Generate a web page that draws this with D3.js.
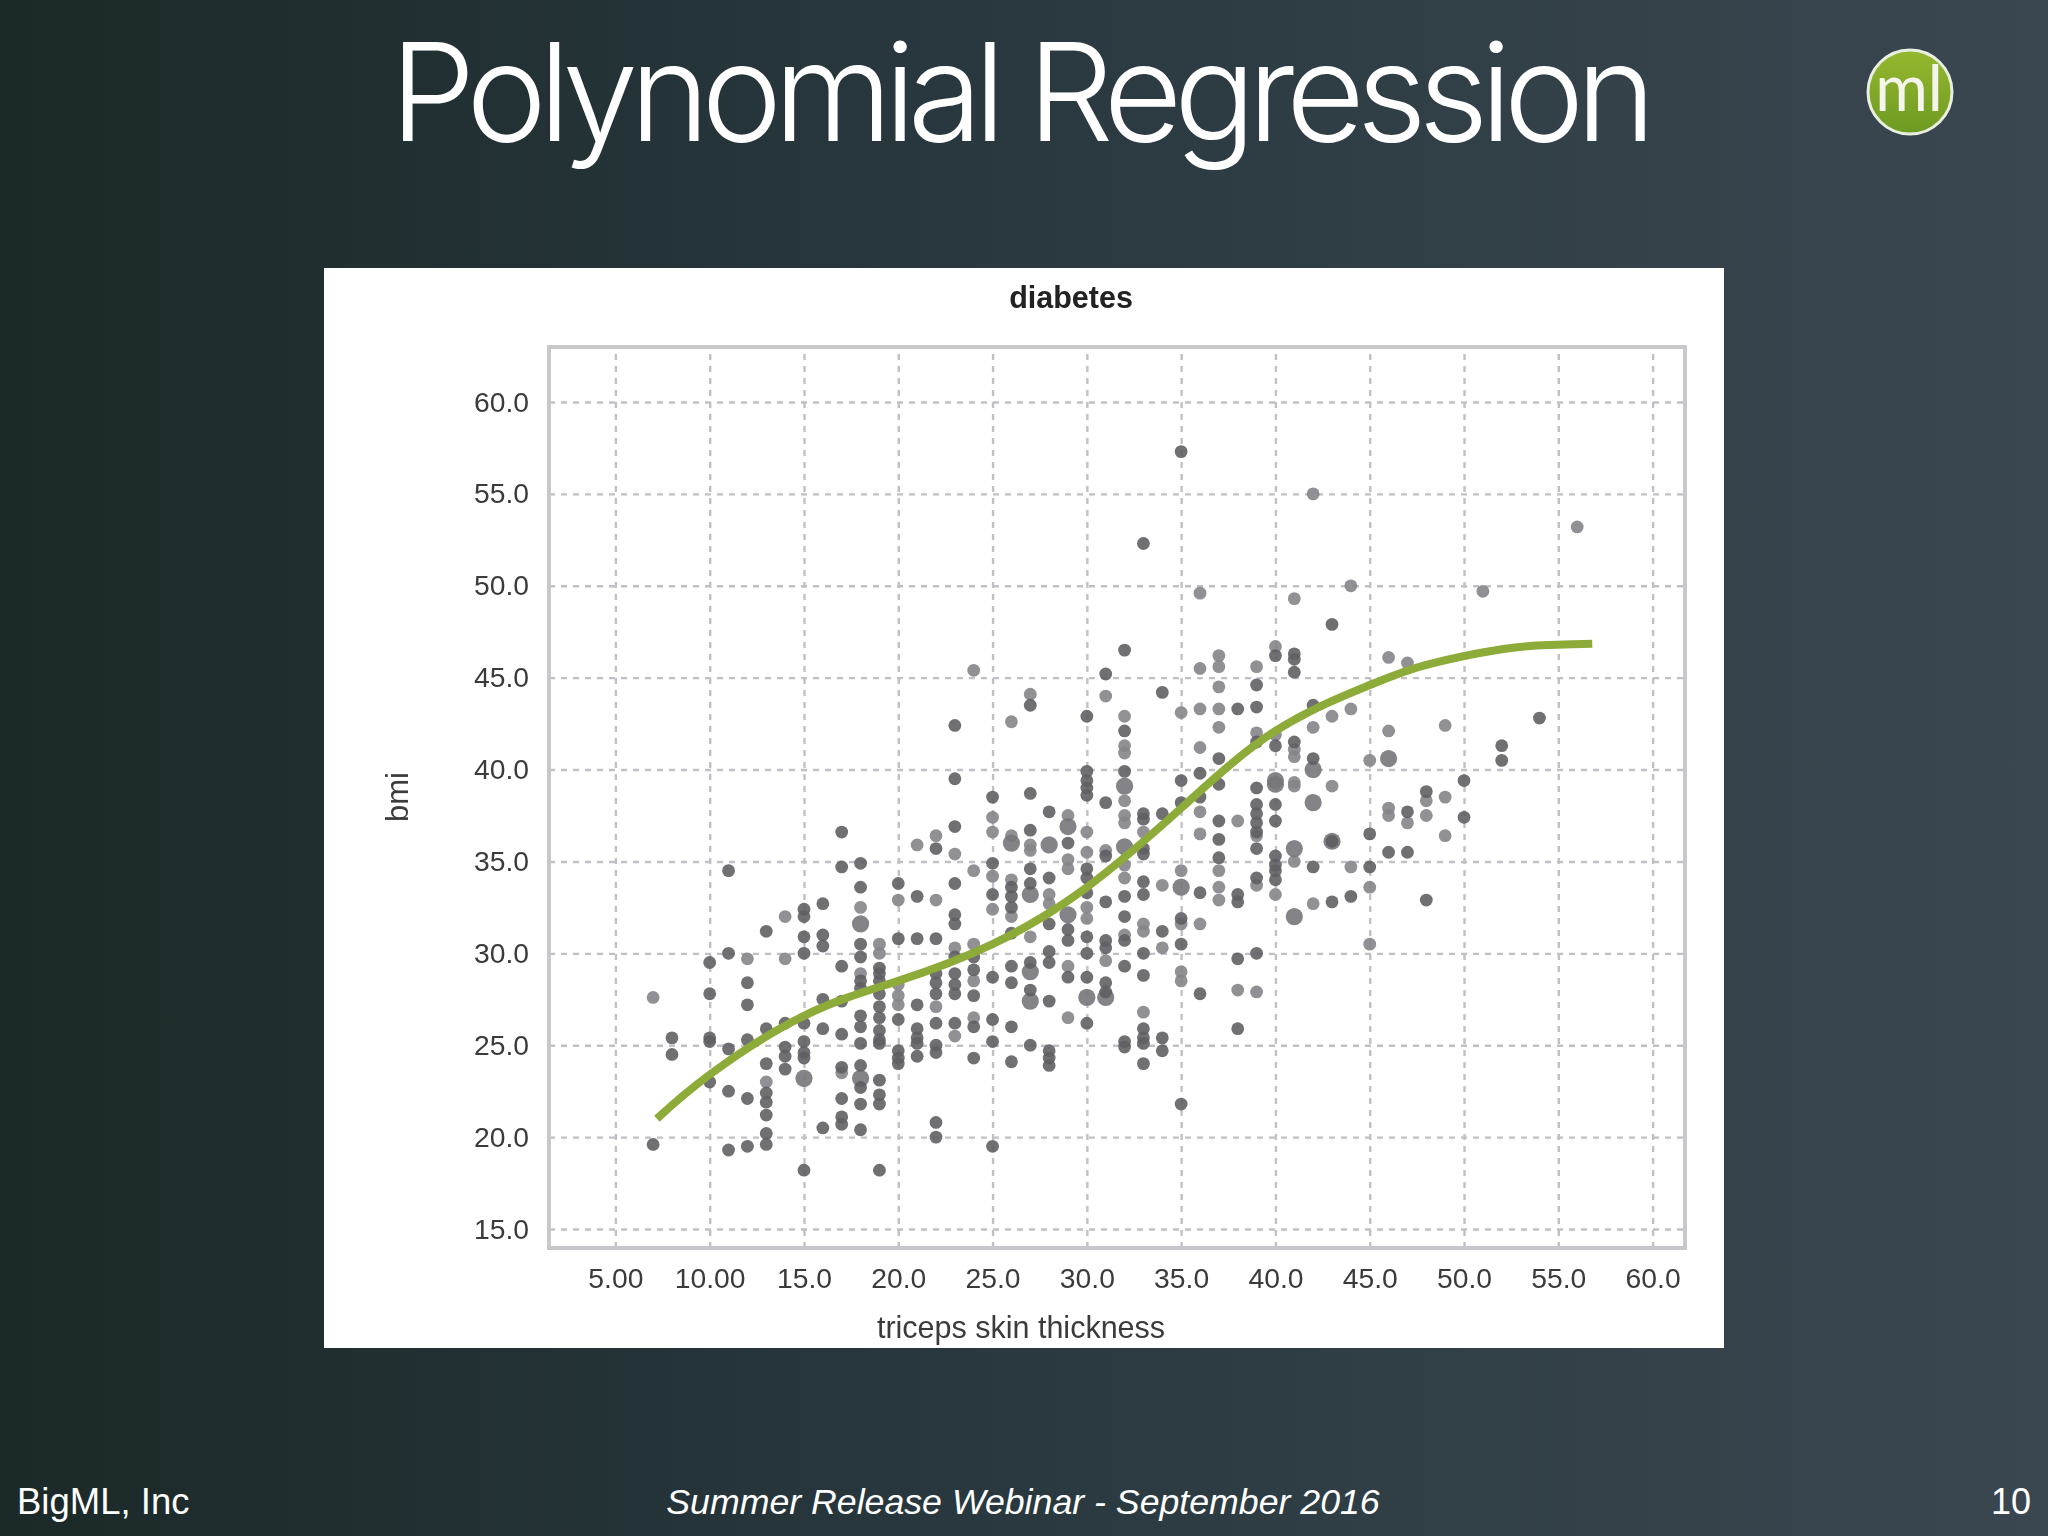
<!DOCTYPE html>
<html><head><meta charset="utf-8">
<script src="https://cdn.jsdelivr.net/npm/d3@7/dist/d3.min.js"></script>
<style>html,body{margin:0;padding:0;background:#2a383e}svg{display:block}</style>
</head><body><svg id="c" width="2048" height="1536"></svg>
<script>
const slideTitle = "Polynomial Regression";
const chartTitle = "diabetes";
const xAxisTitle = "triceps skin thickness";
const yAxisTitle = "bmi";
const xTicks = [5,10,15,20,25,30,35,40,45,50,55,60];
const xTickLabels = ["5.00","10.00","15.0","20.0","25.0","30.0","35.0","40.0","45.0","50.0","55.0","60.0"];
const yTicks = [15,20,25,30,35,40,45,50,55,60];
const yTickLabels = ["15.0","20.0","25.0","30.0","35.0","40.0","45.0","50.0","55.0","60.0"];
const footerLeft = "BigML, Inc";
const footerMid = "Summer Release Webinar - September 2016";
const footerRight = "10";

// [thickness, [bmi values]]
const darkPoints = [
[7,[19.6]],[8,[25.4,24.5]],[10,[29.5,27.8,25.4,25.2,23.0]],[11,[34.5,30.0,24.8,22.5,19.3]],
[12,[28.4,27.2,25.3,22.1,19.5]],[13,[31.2,25.9,24.0,22.4,21.9,21.2,20.2,19.6]],[14,[26.2,24.9,24.4,23.7]],
[15,[32.4,32.0,30.9,30.0,26.2,25.2,24.6,24.3,18.2]],[16,[32.7,31.0,30.4,27.5,25.9,20.5]],
[17,[36.6,34.7,29.3,27.4,25.6,23.8,22.1,21.1,20.7]],[18,[34.9,33.6,30.5,29.8,28.5,28.1,26.6,26.0,25.1,23.9,22.7,21.8,20.4]],
[19,[29.2,28.9,28.5,27.8,27.1,26.5,25.8,25.3,25.1,23.1,22.3,21.8,18.2]],[20,[33.8,30.8,26.4,24.7,24.3,24.0]],
[21,[33.1,30.8,27.2,25.9,25.4,25.1,24.4]],[22,[35.7,30.8,28.9,28.4,27.8,26.2,25.0,24.6,20.8,20.0]],
[23,[42.4,39.5,36.9,33.8,32.1,31.6,29.8,28.9,28.3,27.8,26.2]],[24,[29.8,29.1,27.7,26.0,24.3]],
[25,[38.5,34.9,33.2,28.7,26.4,25.2,19.5]],[26,[33.6,33.1,32.5,31.1,29.3,28.4,26.0,24.1]],
[27,[43.5,38.7,36.7,34.6,33.8,29.5,28.0,25.0]],[28,[37.7,34.1,31.6,30.1,29.5,27.4,24.7,24.3,23.9]],
[29,[36.0,31.3,30.7,28.7]],[30,[42.9,39.9,39.4,39.0,38.6,34.6,34.1,33.3,30.9,30.0,28.7,26.2]],
[31,[45.2,38.2,35.3,32.8,30.7,30.3,28.4,27.9]],[32,[46.5,42.1,39.9,33.1,32.0,30.7,29.3,25.2,24.9]],
[33,[52.3,37.6,37.3,35.7,35.4,33.9,33.2,30.0,28.8,25.9,25.4,25.1,24.0]],[34,[44.2,37.6,31.2,25.4,24.7]],
[35,[57.3,39.4,38.2,31.9,30.5,21.8]],[36,[39.8,38.5,33.3,27.8]],[37,[40.6,39.2,37.2,36.2,35.2]],
[38,[43.3,33.2,32.8,29.7,25.9]],[39,[44.6,43.4,41.5,39.0,38.1,37.6,37.1,36.6,35.7,34.1,30.0]],
[40,[46.2,41.3,38.1,37.2,35.3,34.8,34.5,34.0]],[41,[46.3,46.0,45.3,41.5]],[42,[43.5,40.6,34.7]],
[43,[47.9,36.1,32.8]],[44,[33.1]],[45,[36.5,34.7]],[46,[35.5]],[47,[37.7,35.5]],[48,[38.8,32.9]],
[50,[39.4,37.4]],[52,[41.3,40.5]],[54,[42.8]]
];
const lightPoints = [
[7,[27.6]],[12,[29.7]],[13,[23.0]],[14,[32.0,29.7]],[17,[23.5]],[18,[32.5,28.9]],[19,[30.5,30.0]],
[20,[32.9,28.3,27.7,27.2]],[21,[35.9]],[22,[36.4,32.9,27.1]],[23,[35.4,30.3,25.5]],[24,[45.4,34.5,30.5,28.5,26.5]],
[25,[37.4,36.6,34.2,32.4]],[26,[42.6,36.4,34.0,32.0]],[27,[44.1,35.9,35.6,30.9]],[28,[33.2,32.7]],
[29,[37.5,35.1,34.6,29.3,26.5]],[30,[36.6,35.5,32.5,31.9]],[31,[44.0,35.6,29.6]],
[32,[42.9,41.3,40.9,38.3,37.5,37.1,34.8,34.1,31.0]],[33,[36.6,31.6,31.2,26.8]],[34,[33.7,30.3]],
[35,[43.1,34.5,31.6,29.0,28.5]],[36,[49.6,45.5,43.3,41.2,37.7,36.5,31.6]],[37,[46.2,45.6,44.5,43.3,42.3,34.5,33.6,32.9]],
[38,[37.2,28.0]],[39,[45.6,42.0,36.4,33.7,27.9]],[40,[46.7,41.9,33.2]],[41,[49.3,41.1,40.7,39.3,39.1,35.0]],
[42,[55.0,42.3,32.7]],[43,[42.9,39.1]],[44,[50.0,43.3,34.7]],[45,[40.5,33.6,30.5]],[46,[46.1,42.1,37.9,37.5]],
[47,[45.8,37.1]],[48,[38.3,37.5]],[49,[42.4,38.5,36.4]],[51,[49.7]],[56,[53.2]]
];
const largePoints = [
[15,[23.2]],[18,[31.6,23.2]],[26,[36.0]],[27,[33.2,29.0,27.4]],[28,[35.9]],[29,[36.9,32.1]],[30,[27.6]],
[31,[27.6]],[32,[39.1,35.8]],[35,[33.6]],[40,[39.4,39.2]],[41,[35.7,32.0]],[42,[40.0,38.2]],[43,[36.1]],[46,[40.6]]
];
const fitX = [7.2,10,15,20,25,30,35,40,45,48,52,54.5,56.8];
const fitY = [21.0,23.4,26.6,28.5,30.5,33.6,37.9,42.1,44.6,45.7,46.55,46.78,46.85];

const svg = d3.select("#c");
const defs = svg.append("defs");
const bg = defs.append("linearGradient").attr("id","bg");
bg.append("stop").attr("offset","0").attr("stop-color","#1b2928");
bg.append("stop").attr("offset","0.5").attr("stop-color","#2a3940");
bg.append("stop").attr("offset","1").attr("stop-color","#3b4750");
const lg = defs.append("linearGradient").attr("id","logo").attr("x1",0).attr("y1",0).attr("x2",0).attr("y2",1);
lg.append("stop").attr("offset","0").attr("stop-color","#96b82f");
lg.append("stop").attr("offset","1").attr("stop-color","#6d9a22");
const blur = defs.append("filter").attr("id","soft"); blur.append("feGaussianBlur").attr("stdDeviation",0.7);

svg.append("rect").attr("width",2048).attr("height",1536).attr("fill","url(#bg)");

const sans = "'Liberation Sans',Arial,sans-serif";
svg.append("text").text(slideTitle).attr("x",390).attr("y",141).attr("fill","#fff")
  .attr("font-family","Inter,sans-serif").attr("font-weight",300).attr("font-size",136)
  .attr("textLength",1266).attr("lengthAdjust","spacing");

svg.append("circle").attr("cx",1910).attr("cy",92).attr("r",42).attr("fill","url(#logo)").attr("stroke","#e8efe0").attr("stroke-width",3);
svg.append("text").text("ml").attr("x",1909).attr("y",111).attr("text-anchor","middle").attr("fill","#f4f6ee")
  .attr("font-family","Lato,sans-serif").attr("font-weight",400).attr("font-size",64);

svg.append("rect").attr("x",324).attr("y",268).attr("width",1400).attr("height",1080).attr("fill","#fff");

const x = d3.scaleLinear().domain([5,60]).range([615.4,1652.6]);
const y = d3.scaleLinear().domain([15,60]).range([1229,402]);
const box = {l:549,r:1685,t:347,b:1248};

const gridColor = "#c0c0c6";
const plot = svg.append("g").attr("filter","url(#soft)");
const gx = plot.append("g").attr("transform",`translate(0,${box.b})`)
  .call(d3.axisBottom(x).tickValues(xTicks).tickSize(-(box.b-box.t)).tickPadding(20).tickFormat((d,i)=>xTickLabels[i]));
const gy = plot.append("g").attr("transform",`translate(${box.l},0)`)
  .call(d3.axisLeft(y).tickValues(yTicks).tickSize(-(box.r-box.l)).tickPadding(20).tickFormat((d,i)=>yTickLabels[i]));
[gx,gy].forEach(g=>{
  g.select(".domain").remove();
  g.selectAll(".tick line").attr("stroke",gridColor).attr("stroke-width",2.4).attr("stroke-dasharray","6,6");
  g.selectAll(".tick text").attr("fill","#3a3a3a").attr("font-family",sans).attr("font-size",28.3);
});
gx.selectAll(".tick text").attr("dy","0.71em");

plot.append("rect").attr("x",box.l).attr("y",box.t).attr("width",box.r-box.l).attr("height",box.b-box.t)
  .attr("fill","none").attr("stroke","#c8c8cc").attr("stroke-width",4);

const flat = s => s.flatMap(([a,ys])=>ys.map(b=>[a,b]));
const dots = (s,r,c) => plot.append("g").selectAll("circle").data(flat(s)).join("circle")
  .attr("cx",d=>x(d[0])).attr("cy",d=>y(d[1])).attr("r",r).attr("fill",c).attr("fill-opacity",0.9);
dots(lightPoints,6.4,"#858589");
dots(largePoints,8.6,"#77777b");
dots(darkPoints,6.4,"#5f5f64");

plot.append("path").datum(d3.zip(fitX,fitY))
  .attr("d",d3.line().x(d=>x(d[0])).y(d=>y(d[1])).curve(d3.curveNatural))
  .attr("fill","none").attr("stroke","#8dab38").attr("stroke-width",8);

plot.append("text").text(chartTitle).attr("x",1071).attr("y",308).attr("text-anchor","middle")
  .attr("font-family",sans).attr("font-weight",700).attr("font-size",30.5).attr("fill","#222");
plot.append("text").text(xAxisTitle).attr("x",1021).attr("y",1338).attr("text-anchor","middle")
  .attr("font-family",sans).attr("font-size",30.5).attr("fill","#3a3a3a");
plot.append("text").text(yAxisTitle).attr("transform","translate(408,797) rotate(-90)").attr("text-anchor","middle")
  .attr("font-family",sans).attr("font-size",31).attr("fill","#3a3a3a");

svg.append("text").text(footerLeft).attr("x",17).attr("y",1514).attr("fill","#fff")
  .attr("font-family",sans).attr("font-size",36.5);
svg.append("text").text(footerMid).attr("x",1023).attr("y",1514).attr("text-anchor","middle").attr("fill","#fff")
  .attr("font-family",sans).attr("font-style","italic").attr("font-size",35.7);
svg.append("text").text(footerRight).attr("x",2031).attr("y",1514).attr("text-anchor","end").attr("fill","#fff")
  .attr("font-family",sans).attr("font-size",36);
</script></body></html>
